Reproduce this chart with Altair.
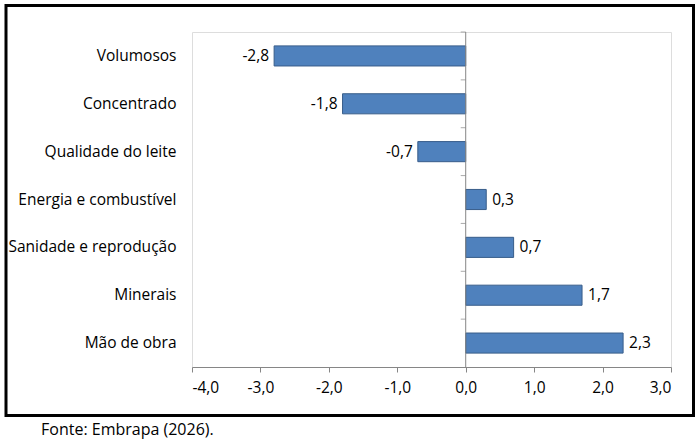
import altair as alt
import pandas as pd

categories = ["Volumosos", "Concentrado", "Qualidade do leite", "Energia e combustível",
              "Sanidade e reprodução", "Minerais", "Mão de obra"]
values = [-2.8, -1.8, -0.7, 0.3, 0.7, 1.7, 2.3]
x_ticks = [-4, -3, -2, -1, 0, 1, 2, 3]
footer = "Fonte: Embrapa (2026)."

df = pd.DataFrame({"cat": categories, "value": values})

FONT = "Open Sans"
FS = 15.5
W, H = 479, 335
STEP = H / len(categories)

y_enc = alt.Y("cat:N", sort=categories, title=None,
              scale=alt.Scale(paddingInner=0.58, paddingOuter=0.29),
              axis=alt.Axis(ticks=False, domain=False, labelPadding=16,
                            labelFontSize=FS, labelFont=FONT, labelColor="#000000"))
x_enc = alt.X("value:Q", title=None,
              scale=alt.Scale(domain=[-4, 3], nice=False, zero=False),
              axis=alt.Axis(values=x_ticks, format=".1f", grid=False,
                            domainColor="#868686", tickColor="#868686", tickSize=5,
                            labelPadding=8, labelFontSize=FS, labelFont=FONT,
                            labelColor="#000000"))

base = alt.Chart(df)

bars = base.mark_bar(color="#4F81BD", stroke="#385D8A", strokeWidth=1).encode(x=x_enc, y=y_enc)

neg = base.transform_filter("datum.value < 0").mark_text(
    align="right", dx=-5, font=FONT, fontSize=FS, color="#000000"
).encode(x="value:Q", y=alt.Y("cat:N", sort=categories), text=alt.Text("value:Q", format=".1f"))

pos = base.transform_filter("datum.value >= 0").mark_text(
    align="left", dx=6, font=FONT, fontSize=FS, color="#000000"
).encode(x="value:Q", y=alt.Y("cat:N", sort=categories), text=alt.Text("value:Q", format=".1f"))

zero = alt.Chart(pd.DataFrame({"z": [0]})).mark_rule(color="#868686", strokeWidth=1).encode(
    x=alt.datum(0))

ticks = base.mark_tick(orient="horizontal", size=5, thickness=1, color="#868686",
                       xOffset=-2.5, yOffset=-STEP / 2).encode(
    x=alt.datum(0), y=alt.Y("cat:N", sort=categories))

one = pd.DataFrame({"a": [0]})
box = alt.Chart(one).mark_rect(fillOpacity=0, stroke="#000000", strokeWidth=3).encode(
    x=alt.value(-186), x2=alt.value(501.5), y=alt.value(-26.5), y2=alt.value(383.5))

foot = alt.Chart(one).mark_text(align="left", baseline="middle", font=FONT, fontSize=16,
                                color="#000000", text=footer).encode(
    x=alt.value(-151), y=alt.value(398))

chart = alt.layer(box, bars, zero, ticks, neg, pos, foot).properties(
    width=W, height=H,
    autosize=alt.AutoSizeParams(type="none"),
    padding={"left": 192, "top": 32, "right": 29, "bottom": 79},
    background="#ffffff",
).configure_view(stroke="#95B3D7", strokeWidth=1.5).configure(
    locale=alt.Locale(number=alt.NumberLocale(decimal=",", thousands=".", grouping=[3],
                                              currency=["", ""], minus="-"))
)

chart.save("out.html", embed_options={"renderer": "svg", "actions": False})
